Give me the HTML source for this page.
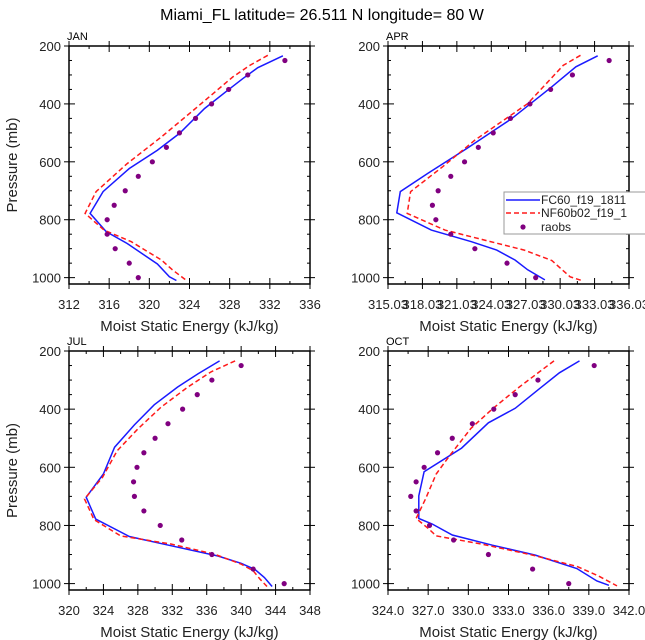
<!DOCTYPE html>
<html><head><meta charset="utf-8"><style>
body{margin:0;background:#fff;}
svg{display:block;font-family:"Liberation Sans",sans-serif;}
</style></head><body>
<svg id="chart" width="645" height="640" viewBox="0 0 645 640" xmlns="http://www.w3.org/2000/svg">
<text x="322" y="20" text-anchor="middle" font-size="16" fill="#000">Miami_FL  latitude= 26.511 N longitude= 80 W</text>
</svg>
<script>
// ---- data ----
const janBlueP = [234,275,313,353,416,502,560,623,703,778,841,882,953,997,1010];
const janBlue  = [333.3,330.8,329.3,327.8,325.5,323.0,320.8,318.0,315.4,314.1,315.7,317.8,320.8,322.0,322.7];
const janRedP  = [232,267,307,410,514,606,703,778,836,876,939,973,1010];
const janRed   = [331.8,330.0,328.3,324.8,321.2,317.8,314.7,313.6,315.5,318.2,321.2,322.3,323.7];
const obsP = [250,300,350,400,450,500,550,600,650,700,750,800,850,900,950,1000];
const janObs = [333.5,329.8,327.9,326.2,324.6,323.0,321.7,320.3,318.9,317.6,316.5,315.8,315.8,316.6,318.0,318.9];
const aprBlueP = [234,272,341,451,554,640,703,776,836,876,905,939,973,1008];
const aprBlue  = [333.3,331.4,329.3,325.8,321.9,318.5,316.1,315.8,318.8,322.3,324.5,326.1,327.2,328.7];
const aprRedP  = [232,267,399,525,617,703,778,836,870,905,941,997,1010];
const aprRed   = [331.8,330.3,327.2,322.6,319.8,317.0,316.7,320.0,323.4,326.9,329.3,330.9,331.9];
const aprObs = [334.3,331.1,329.2,327.4,325.7,324.2,322.9,321.7,320.5,319.4,318.9,319.2,320.5,322.6,325.4,327.9];
const julBlueP = [234,278,324,385,454,531,623,703,778,838,870,905,930,951,979,1010];
const julBlue  = [337.5,335.0,332.6,329.9,327.6,325.3,324.0,322.0,323.1,327.0,331.9,337.3,340.0,341.6,342.7,343.6];
const julRedP  = [234,272,324,393,468,543,634,709,780,836,864,899,933,956,985,1010];
const julRed   = [339.3,336.5,333.8,330.7,328.0,325.6,323.9,321.8,322.9,326.0,331.9,336.9,340.0,341.4,342.2,343.0];
const julObs = [340.0,336.6,334.9,333.2,331.5,330.0,328.7,327.9,327.5,327.6,328.7,330.6,333.1,336.6,341.4,345.0];
const octBlueP = [234,275,330,397,447,534,615,698,776,795,833,868,902,948,991,1006];
const octBlue  = [338.3,336.8,335.3,333.5,331.5,329.5,326.7,326.3,326.3,327.3,328.8,331.8,335.0,338.1,339.6,340.5];
const octRedP  = [234,272,324,399,466,560,623,709,776,810,836,864,902,941,973,1008];
const octRed   = [336.4,335.3,333.8,331.8,330.2,328.6,327.6,326.8,326.1,327.0,327.6,331.0,334.8,338.1,339.7,341.1];
const octObs = [339.4,335.2,333.5,331.9,330.3,328.8,327.7,326.7,326.1,325.7,326.1,327.1,328.9,331.5,334.8,337.5];
const janTicks = ["312","316","320","324","328","332","336"];
const aprTicks = ["315.03","318.03","321.03","324.03","327.03","330.03","333.03","336.03"];
const julTicks = ["320","324","328","332","336","340","344","348"];
const octTicks = ["324.0","327.0","330.0","333.0","336.0","339.0","342.0"];
const yTicks = [200,400,600,800,1000];

const NS="http://www.w3.org/2000/svg";
const svg=document.getElementById('chart');
function mk(tag,attrs,parent){const e=document.createElementNS(NS,tag);for(const k in attrs)e.setAttribute(k,attrs[k]);(parent||svg).appendChild(e);return e;}

const panels=[
 {name:'jan',label:'JAN',x0:69,x1:310,y0:46,y1:284,xmin:312,xmax:336,ticks:janTicks,left:true,
  series:[[janBlueP,janBlue],[janRedP,janRed]],obs:janObs},
 {name:'apr',label:'APR',x0:388,x1:629,y0:46,y1:284,xmin:315.03,xmax:336.03,ticks:aprTicks,left:false,
  series:[[aprBlueP,aprBlue],[aprRedP,aprRed]],obs:aprObs},
 {name:'jul',label:'JUL',x0:69,x1:310,y0:351,y1:590,xmin:320,xmax:348,ticks:julTicks,left:true,
  series:[[julBlueP,julBlue],[julRedP,julRed]],obs:julObs},
 {name:'oct',label:'OCT',x0:388,x1:629,y0:351,y1:590,xmin:324,xmax:342,ticks:octTicks,left:false,
  series:[[octBlueP,octBlue],[octRedP,octRed]],obs:octObs}
];
const PMIN=200,PMAX=1022;
panels.forEach(P=>{
 const g=mk('g',{});
 
 
 const xs=v=>P.x0+(v-P.xmin)/(P.xmax-P.xmin)*(P.x1-P.x0);
 const ys=p=>P.y0+(p-PMIN)/(PMAX-PMIN)*(P.y1-P.y0);
 const frame=mk('rect',{x:P.x0,y:P.y0,width:P.x1-P.x0,height:P.y1-P.y0,fill:'none',stroke:'#000','stroke-width':1.5},g);
 
 
 const lab=mk('text',{x:P.x0-2,y:P.y0-6,'font-size':11,fill:'#000'},g);lab.textContent=P.label;
 
 
 for(let p=250;p<=1000;p+=50){
  if(yTicks.includes(p))continue;
  const y=ys(p);
  mk('line',{x1:P.x0,x2:P.x0+3,y1:y,y2:y,stroke:'#000','stroke-width':1},g);
  mk('line',{x1:P.x1-3,x2:P.x1,y1:y,y2:y,stroke:'#000','stroke-width':1},g);
 }
 yTicks.forEach(p=>{
  const y=ys(p);
  mk('line',{x1:P.x0-5,x2:P.x0+6,y1:y,y2:y,stroke:'#000'},g);
  mk('line',{x1:P.x1-6,x2:P.x1+5,y1:y,y2:y,stroke:'#000'},g);
  const t=mk('text',{x:P.x0-8,y:y+5,'text-anchor':'end','font-size':13,fill:'#222'},g);t.textContent=p;
  
  
 });
 const n=P.ticks.length;const step=(P.xmax-P.xmin)/(n-1);
 P.ticks.forEach((s,i)=>{
  const x=xs(P.xmin+i*step);
  mk('line',{x1:x,x2:x,y1:P.y1+5,y2:P.y1-6,stroke:'#000'},g);
  mk('line',{x1:x,x2:x,y1:P.y0-5,y2:P.y0+6,stroke:'#000'},g);
  if(i<n-1){const xm=xs(P.xmin+(i+0.5)*step);
   mk('line',{x1:xm,x2:xm,y1:P.y1,y2:P.y1-3,stroke:'#000'},g);
   mk('line',{x1:xm,x2:xm,y1:P.y0,y2:P.y0+3,stroke:'#000'},g);}
  const t=mk('text',{x:x,y:P.y1+25,'text-anchor':'middle','font-size':13,fill:'#222'},g);t.textContent=s;
  if(s.length>5){t.setAttribute('textLength','40');t.setAttribute('lengthAdjust','spacingAndGlyphs');}
  
  
 });
 const xt=mk('text',{x:(P.x0+P.x1)/2,y:P.y1+47,'text-anchor':'middle','font-size':15,fill:'#222'},g);
 xt.textContent='Moist Static Energy (kJ/kg)';
 
 
 if(P.left){
  const cy=(P.y0+P.y1)/2;
  const yt=mk('text',{x:0,y:0,transform:`translate(17,${cy}) rotate(-90)`,'text-anchor':'middle','font-size':15,fill:'#222'},g);
  yt.textContent='Pressure (mb)';
  
  
 }
 const styles=[{stroke:'#1a1aff',dash:''},{stroke:'#ff1a1a',dash:'5,3'}];
 P.series.forEach((s,k)=>{
  const d=s[0].map((p,i)=>(i?'L':'M')+xs(s[1][i]).toFixed(1)+','+ys(p).toFixed(1)).join(' ');
  const path=mk('path',{d:d,fill:'none',stroke:styles[k].stroke,'stroke-width':1.5,'stroke-dasharray':styles[k].dash},g);
  
  
 });
 obsP.forEach((p,i)=>{
  const c=mk('circle',{cx:xs(P.obs[i]),cy:ys(p),r:2.6,fill:'#800080'},g);
  
  
 });
});
const lg=mk('g',{});


mk('rect',{x:504,y:192,width:150,height:42,fill:'#fff',stroke:'#999','stroke-width':1},lg);
mk('line',{x1:506,x2:540,y1:200,y2:200,stroke:'#1a1aff','stroke-width':1.5},lg);
mk('line',{x1:506,x2:540,y1:213,y2:213,stroke:'#ff1a1a','stroke-width':1.5,'stroke-dasharray':'5,3'},lg);
mk('circle',{cx:523,cy:227,r:2.6,fill:'#800080'},lg);
[['FC60_f19_1811',204],['NF60b02_f19_1',217],['raobs',231]].forEach(([s,y])=>{
 const t=mk('text',{x:541,y:y,'font-size':12,fill:'#222'},lg);t.textContent=s;
 
 
});
</script>
</body></html>
